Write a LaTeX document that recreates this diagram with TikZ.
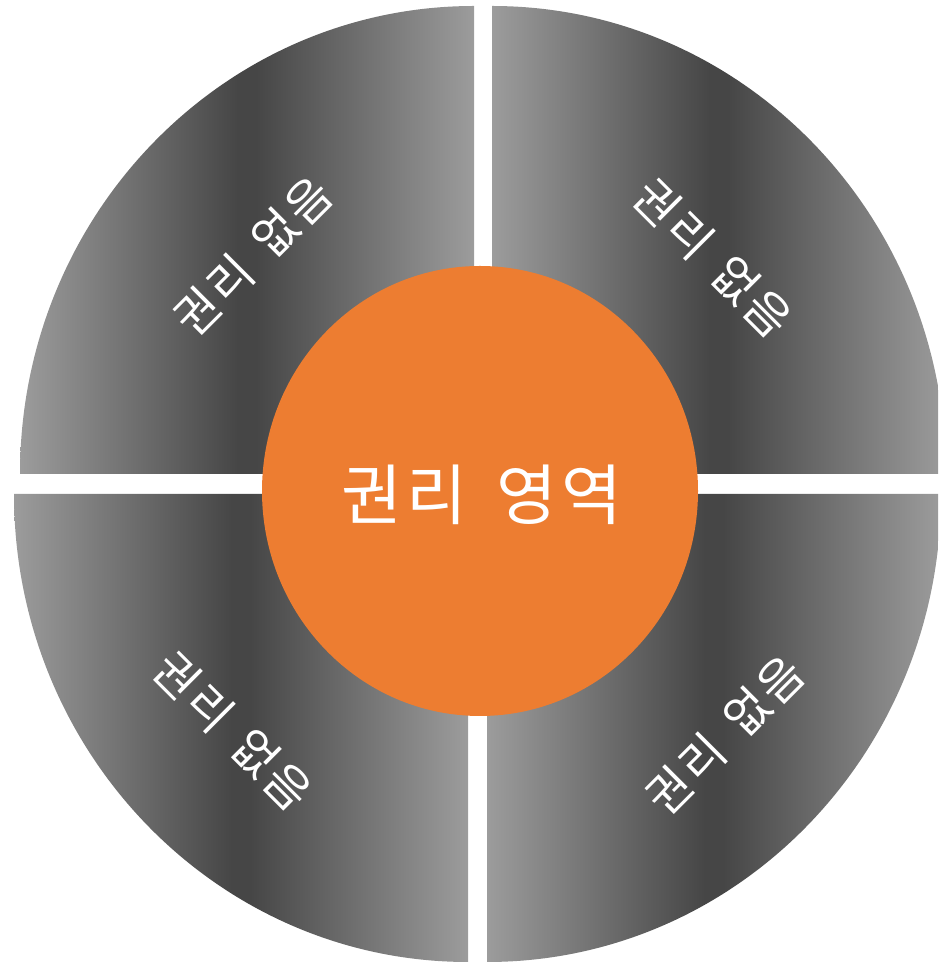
\documentclass[tikz,border=0pt]{standalone}
\usepackage{fontspec}
\newfontfamily\kr{Noto Sans CJK KR}[LetterSpace=6, WordSpace=1.6]
\definecolor{orng}{HTML}{ED7D31}
\definecolor{glight}{HTML}{9C9C9C}
\definecolor{gdark}{HTML}{464646}
\pgfdeclarehorizontalshading{sectorshade}{100bp}{color(0bp)=(glight); color(25bp)=(glight); color(49bp)=(gdark); color(51bp)=(gdark); color(75bp)=(glight); color(100bp)=(glight)}
\tikzset{
  sector/.style={shading=sectorshade, draw=none},
  sectortext/.style={text=white, font=\kr\fontsize{23.5}{24}\selectfont, inner sep=0pt},
  centertext/.style={text=white, font=\kr\fontsize{33}{33}\selectfont, inner sep=0pt}
}
\begin{document}
\begin{tikzpicture}[x=0.5pt,y=0.5pt]
\useasboundingbox (0,0) rectangle (938,963);
\begin{scope}
\clip (0,0) rectangle (938,963);
% top-left
\path[sector] (474,489) -- (20,489) arc[start angle=180, end angle=90, x radius=454, y radius=468] -- cycle;
% top-right
\path[sector] (492,489) -- (492,957) arc[start angle=90, end angle=0, x radius=454, y radius=468] -- cycle;
% bottom-left
\path[sector] (468,469) -- (14,469) arc[start angle=180, end angle=270, x radius=454, y radius=468] -- cycle;
% bottom-right
\path[sector] (487,469) -- (487,1) arc[start angle=270, end angle=360, x radius=454, y radius=468] -- cycle;
\end{scope}
\fill[orng] (480,472) ellipse[x radius=218, y radius=225];
\node[centertext] (c) at (482,468) {권리 영역};
\node[sectortext, rotate=45] (tl) at (253,707) {권리 없음};
\node[sectortext, rotate=-45] (tr) at (713,705) {권리 없음};
\node[sectortext, rotate=-45] (bl) at (233,232) {권리 없음};
\node[sectortext, rotate=45] (br) at (725,228) {권리 없음};
\end{tikzpicture}
\end{document}
